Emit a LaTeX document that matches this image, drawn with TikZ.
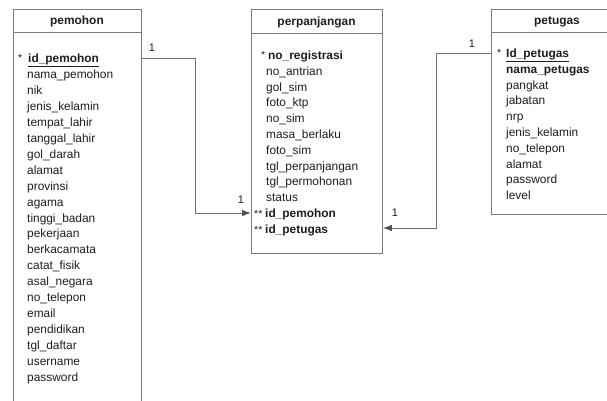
\documentclass[tikz,border=0pt]{standalone}
\usepackage{fontspec}
\setmainfont{Liberation Sans}
\usetikzlibrary{arrows.meta}
\definecolor{boxgrey}{HTML}{7C7C7C}
\definecolor{linegrey}{HTML}{707070}
\definecolor{tipgrey}{HTML}{4C5262}
\definecolor{txt}{HTML}{1E1E1E}
\begin{document}
\begin{tikzpicture}[x=1pt,y=-1pt,
  tbl/.style={draw=boxgrey, line width=0.9pt, fill=white, rectangle,
    anchor=north west, inner sep=0pt},
  hdr/.style={font=\bfseries\fontsize{11.9}{13}\selectfont, text=txt, inner sep=0pt},
  fld/.style={anchor=west, font=\fontsize{11.9}{13}\selectfont, text=txt,
    inner sep=0pt, text height=9pt, text depth=1pt},
  keyfld/.style={fld, font=\bfseries\fontsize{11.9}{13}\selectfont},
  keymark/.style={fld, font=\fontsize{10.5}{12}\selectfont},
  lbl/.style={font=\fontsize{11}{13}\selectfont, text=txt, inner sep=0pt},
  rule/.style={draw=boxgrey, line width=0.9pt},
  conn/.style={draw=linegrey, line width=0.9pt},
  connarrow/.style={conn, -{Latex[length=9pt,width=6.5pt,color=tipgrey]}}
]
\useasboundingbox[fill=white] (0,0) rectangle (607,401);

% ---------- table boxes ----------
\node[tbl, minimum width=128pt, minimum height=410pt] (pmbox) at (13,9) {};
\node[tbl, minimum width=131pt, minimum height=244pt] (ppbox) at (251,9) {};
\node[tbl, minimum width=132pt, minimum height=205pt] (ptbox) at (491,9) {};

% header separators
\foreach \b/\h in {pmbox/23, ppbox/24, ptbox/23}
  \draw[rule] ([yshift=-\h pt]\b.north west) -- ([yshift=-\h pt]\b.north east);

% headers
\node[hdr] (pmhdr) at (77,21.5) {pemohon};
\node[hdr] (pphdr) at (316.5,22) {perpanjangan};
\node[hdr] (pthdr) at (557,21.5) {petugas};

% ---------- pemohon ----------
\node[keymark] (pmstar) at (18,58) {*};
\node[keyfld] (pm0) at (28,58.5) {\underline{id\_pemohon}};
\foreach \t [count=\i] in {nama\_pemohon, nik, jenis\_kelamin, tempat\_lahir,
    tanggal\_lahir, gol\_darah, alamat, provinsi, agama, tinggi\_badan,
    pekerjaan, berkacamata, catat\_fisik, asal\_negara, no\_telepon, email,
    pendidikan, tgl\_daftar, username, password}
  \node[fld] (pm\i) at (27,58.5+\i*15.95) {\t};

% ---------- perpanjangan ----------
\node[keymark] (ppstar) at (261,55) {*};
\node[keyfld] (pp0) at (268,55.5) {no\_registrasi};
\foreach \t [count=\i] in {no\_antrian, gol\_sim, foto\_ktp, no\_sim,
    masa\_berlaku, foto\_sim, tgl\_perpanjangan, tgl\_permohonan, status}
  \node[fld] (pp\i) at (266,55.5+\i*15.8) {\t};
\node[keymark] (ppfk1) at (254,213) {**};
\node[keyfld] (pp10) at (265,213.5) {id\_pemohon};
\node[keymark] (ppfk2) at (254,229) {**};
\node[keyfld] (pp11) at (265,229.5) {id\_petugas};

% ---------- petugas ----------
\node[keymark] (ptstar) at (497,53) {*};
\node[keyfld] (pt0) at (506,53.5) {\underline{Id\_petugas}};
\node[keyfld] (pt1) at (506,69.3) {nama\_petugas};
\foreach \t [count=\i from 2] in {pangkat, jabatan, nrp, jenis\_kelamin,
    no\_telepon, alamat, password, level}
  \node[fld] (pt\i) at (506,53.5+\i*15.8) {\t};

% ---------- relationships ----------
\coordinate (bendA) at (195,58);
\coordinate (bendB) at (436,53);
\draw[connarrow] (pmbox.east |- bendA) -- (bendA) |- (ppbox.west |- ppfk1.west);
\draw[connarrow] (ptbox.west |- bendB) -- (bendB) |- (ppbox.east |- 0,228);

% cardinalities
\node[lbl] (cardA1) at (152,48) {1};
\node[lbl] (cardA2) at (241,200) {1};
\node[lbl] (cardB1) at (472,44) {1};
\node[lbl] (cardB2) at (395,213) {1};
\end{tikzpicture}
\end{document}
